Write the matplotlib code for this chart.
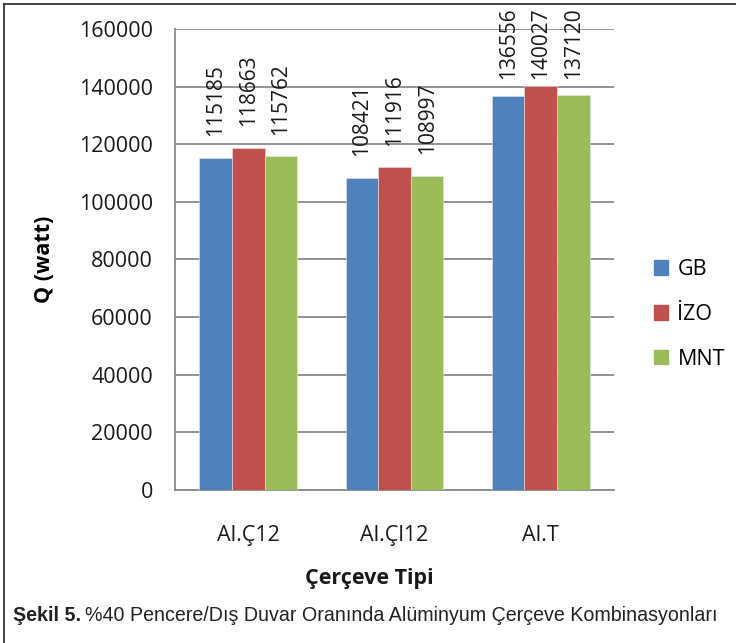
import numpy as np
import matplotlib.pyplot as plt
from matplotlib.patches import Rectangle
from matplotlib.lines import Line2D

categories = ["Al.Ç12", "Al.Çl12", "Al.T"]
series_names = ["GB", "İZO", "MNT"]
gb = [115185, 108421, 136556]
izo = [118663, 111916, 140027]
mnt = [115762, 108997, 137120]
colors = ["#4F81BD", "#C0504D", "#9BBB59"]
yticks = [0, 20000, 40000, 60000, 80000, 100000, 120000, 140000, 160000]

font = "Open Sans"
fs = 15.5
fig = plt.figure(figsize=(7.36, 6.43), dpi=100)
ax = fig.add_axes([0.238, 0.238, 0.596, 0.717])

# Value labels sit a small gap above each bar, but never rise past the
# top of the plot area.
label_gap = 7600
label_ceiling = 142700

x = np.arange(len(categories))
width = 0.223
for i, (vals, name, c) in enumerate(zip([gb, izo, mnt], series_names, colors)):
    pos = x + (i - 1) * width
    ax.bar(pos, vals, width, color=c, edgecolor="#e8e8e8", linewidth=0.4,
           label=name, zorder=3)
    for px, v in zip(pos, vals):
        ax.text(px, min(v + label_gap, label_ceiling), f"{v}", rotation=90,
                ha="center", va="bottom", fontsize=15, family=font,
                color="#1a1a1a", clip_on=False)

ax.set_xlim(-0.5, 2.5)
ax.set_ylim(0, 160000)
ax.set_yticks(yticks)
ax.set_yticklabels([str(t) for t in yticks], fontsize=fs, family=font,
                   color="#1a1a1a")
ax.set_xticks(x)
ax.set_xticklabels(categories, fontsize=fs, family=font, color="#1a1a1a")
ax.tick_params(axis="y", length=0, pad=16)
ax.tick_params(axis="x", length=0, pad=25)
ax.yaxis.grid(True, color="#8a8a8a", linewidth=1.3, zorder=0)
ax.set_axisbelow(True)
for s in ["top", "right"]:
    ax.spines[s].set_visible(False)
for s in ["left", "bottom"]:
    ax.spines[s].set_color("#8a8a8a")
    ax.spines[s].set_linewidth(1.3)

ax.set_ylabel("Q (watt)", fontsize=fs, family=font, fontweight="bold")
ax.yaxis.set_label_coords(-0.273, 0.5)

fig.text(0.502, 0.101, "Çerçeve Tipi", fontsize=fs, family=font,
         fontweight="bold", ha="center", va="center", color="#1a1a1a")

# Legend
handles = [Rectangle((0, 0), 1, 1, color=c) for c in colors]
leg = fig.legend(handles, series_names, loc="center left",
                 bbox_to_anchor=(0.862, 0.511), frameon=False,
                 prop={"family": font, "size": fs}, handlelength=0.65,
                 handleheight=0.65, labelspacing=1.1, handletextpad=0.45)

# Caption
cap1 = fig.text(0.017, 0.043, "Şekil 5.", fontsize=14.1,
                family="Liberation Sans", fontweight="bold", ha="left",
                va="center", color="#222222")
fig.canvas.draw()
bb = cap1.get_window_extent()
x1 = fig.transFigure.inverted().transform((bb.x1, bb.y0))[0]
fig.text(x1 + 0.006, 0.043,
         "%40 Pencere/Dış Duvar Oranında Alüminyum Çerçeve Kombinasyonları",
         fontsize=14.1, family="Liberation Sans", ha="left", va="center",
         color="#222222")

# Outer frame
fig.add_artist(Line2D([0.006, 0.006], [0.0, 0.994], transform=fig.transFigure,
                      color="#333333", linewidth=1.3))
fig.add_artist(Line2D([0.006, 1.0], [0.994, 0.994], transform=fig.transFigure,
                      color="#333333", linewidth=1.3))

fig.savefig("out.png", dpi=100)
